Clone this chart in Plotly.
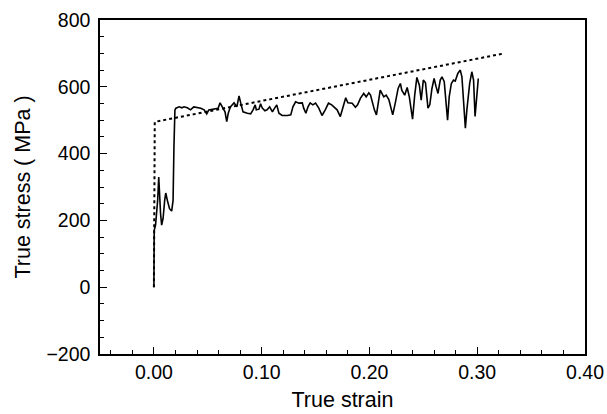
import plotly.graph_objects as go

# Dotted line (model / fitted curve)
dot_strain = [0.0, 0.0008, 0.325]
dot_stress = [0, 495, 700]

# Solid line (measured)
strain = [0.0, 0.0003, 0.0015, 0.0025, 0.0035, 0.0045, 0.0052, 0.0062, 0.0072, 0.0085,
          0.0100, 0.0110, 0.0125, 0.0145, 0.0165, 0.0178, 0.0186, 0.0195,
          0.0204, 0.0235, 0.026, 0.028, 0.031, 0.034, 0.037, 0.040, 0.0435, 0.0466,
          0.049, 0.051, 0.054, 0.057, 0.0596, 0.0614, 0.0636, 0.066, 0.0676, 0.069,
          0.071, 0.0744, 0.077, 0.079, 0.0806, 0.0827, 0.0867, 0.0898, 0.092, 0.094,
          0.095, 0.0975, 0.099, 0.1006, 0.103, 0.105, 0.1074, 0.110,
          0.111, 0.114, 0.116, 0.119, 0.124, 0.127, 0.129, 0.1315, 0.1345, 0.1377,
          0.139, 0.141, 0.143, 0.145, 0.1475, 0.150, 0.153, 0.156, 0.159, 0.162,
          0.165, 0.1676, 0.170, 0.173, 0.1756, 0.178, 0.180, 0.184, 0.187, 0.189,
          0.1917, 0.1947, 0.197, 0.1994, 0.201, 0.2025, 0.2046, 0.2065, 0.2086,
          0.210, 0.2133, 0.2155, 0.218, 0.2216, 0.224, 0.2266, 0.2287, 0.230,
          0.2327, 0.235, 0.237, 0.239, 0.240, 0.242, 0.244, 0.2463, 0.248, 0.250,
          0.252, 0.2543, 0.256, 0.258, 0.260, 0.2617, 0.2636, 0.2657, 0.2673,
          0.2694, 0.2713, 0.2725, 0.274, 0.276, 0.278, 0.2796, 0.282, 0.2843,
          0.2858, 0.2873, 0.289, 0.2904, 0.293, 0.295, 0.2966, 0.298, 0.2997, 0.301]
stress = [0, 170, 185, 220, 260, 330, 260, 220, 186, 205,
          260, 282, 260, 235, 228, 260, 420, 530,
          536, 540, 537, 540, 537, 531, 540, 539, 536, 531,
          519, 531, 533, 534, 536, 552, 540, 525, 496, 521,
          540, 552, 540, 573, 551, 525, 521, 519, 531, 546,
          531, 533, 549, 536, 528, 531, 540, 525,
          531, 546, 521, 514, 514, 516, 540, 555, 551, 552,
          536, 521, 540, 552, 546, 551, 536, 514, 531, 551,
          546, 539, 531, 511, 540, 567, 552, 551, 539, 546,
          566, 580, 570, 582, 575, 555, 531, 516, 560,
          590, 570, 575, 562, 516, 552, 595, 610, 590,
          575, 598, 570, 521, 503, 575, 628, 605, 560, 620,
          612, 536, 546, 595, 625, 602, 580, 620, 630,
          615, 540, 500, 570, 610, 620, 617, 640, 650,
          630, 570, 476, 531, 610, 645, 620, 511, 585, 625]

x_ticks = [0.0, 0.1, 0.2, 0.3, 0.4]
x_tick_labels = ["0.00", "0.10", "0.20", "0.30", "0.40"]
y_ticks = [-200, 0, 200, 400, 600, 800]
y_tick_labels = ["\u2212200", "0", "200", "400", "600", "800"]

fig = go.Figure()
fig.add_trace(go.Scatter(x=dot_strain, y=dot_stress, mode="lines",
                         line=dict(color="black", width=2, dash="dot"),
                         showlegend=False, hoverinfo="skip"))
fig.add_trace(go.Scatter(x=strain, y=stress, mode="lines",
                         line=dict(color="black", width=1.6),
                         showlegend=False))

fam = "Liberation Sans, Arial, sans-serif"
tick_font = dict(family=fam, size=19.5, color="black")
title_font = dict(family=fam, size=21.5, color="black")
fig.update_layout(
    width=607, height=414,
    margin=dict(l=100, r=22, t=20, b=60),
    paper_bgcolor="white", plot_bgcolor="white",
    font=tick_font,
)
fig.update_xaxes(
    range=[-0.05, 0.40], tickvals=x_ticks, ticktext=x_tick_labels,
    ticks="inside", ticklen=7, tickwidth=1.2, tickcolor="black",
    showline=True, linecolor="black", linewidth=1.5, mirror=True,
    showgrid=False, zeroline=False, automargin=False,
    minor=dict(dtick=0.02, tick0=0, ticks="inside", ticklen=4, tickwidth=1, tickcolor="black", showgrid=False),
    title=dict(text="True strain", standoff=10, font=title_font),
    tickfont=tick_font, ticklabelstandoff=0,
)
fig.update_yaxes(
    range=[-200, 800], tickvals=y_ticks, ticktext=y_tick_labels,
    ticks="inside", ticklen=7, tickwidth=1.2, tickcolor="black",
    showline=True, linecolor="black", linewidth=1.5, mirror=True,
    showgrid=False, zeroline=False, automargin=False,
    minor=dict(dtick=50, tick0=0, ticks="inside", ticklen=4, tickwidth=1, tickcolor="black", showgrid=False),
    title=dict(text="True stress ( MPa )", standoff=10, font=title_font),
    tickfont=tick_font, ticklabelstandoff=4,
)
fig.write_html("out.html")
